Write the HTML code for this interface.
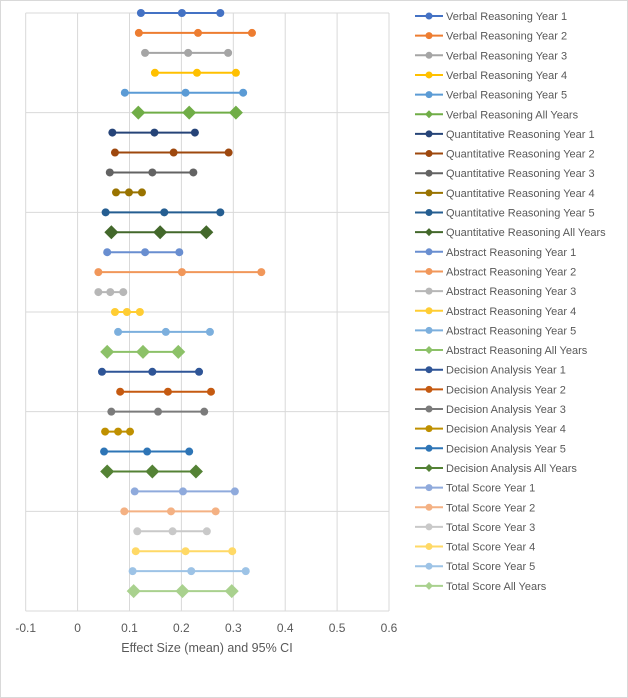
<!DOCTYPE html>
<html><head><meta charset="utf-8"><style>
body{margin:0;background:#fff;font-family:"Liberation Sans",sans-serif}
#wrap{position:relative;width:628px;height:698px;overflow:hidden}
</style></head><body>
<div id="wrap">
<svg id="chart" width="628" height="698"></svg>
</div>
<script>
const seriesNames=["Verbal Reasoning Year 1","Verbal Reasoning Year 2","Verbal Reasoning Year 3","Verbal Reasoning Year 4","Verbal Reasoning Year 5","Verbal Reasoning All Years","Quantitative Reasoning Year 1","Quantitative Reasoning Year 2","Quantitative Reasoning Year 3","Quantitative Reasoning Year 4","Quantitative Reasoning Year 5","Quantitative Reasoning All Years","Abstract Reasoning Year 1","Abstract Reasoning Year 2","Abstract Reasoning Year 3","Abstract Reasoning Year 4","Abstract Reasoning Year 5","Abstract Reasoning All Years","Decision Analysis Year 1","Decision Analysis Year 2","Decision Analysis Year 3","Decision Analysis Year 4","Decision Analysis Year 5","Decision Analysis All Years","Total Score Year 1","Total Score Year 2","Total Score Year 3","Total Score Year 4","Total Score Year 5","Total Score All Years"];
const lowerCI=[0.122,0.118,0.130,0.149,0.091,0.117,0.067,0.072,0.062,0.074,0.054,0.065,0.057,0.040,0.040,0.072,0.078,0.057,0.047,0.082,0.065,0.053,0.051,0.057,0.110,0.090,0.115,0.112,0.106,0.108];
const meanES=[0.201,0.232,0.213,0.230,0.208,0.215,0.148,0.185,0.144,0.099,0.167,0.159,0.130,0.201,0.063,0.095,0.170,0.126,0.144,0.174,0.155,0.078,0.134,0.144,0.203,0.180,0.183,0.208,0.219,0.202];
const upperCI=[0.275,0.336,0.290,0.305,0.319,0.305,0.226,0.291,0.223,0.124,0.275,0.248,0.196,0.354,0.088,0.120,0.255,0.194,0.234,0.257,0.244,0.101,0.215,0.228,0.303,0.266,0.249,0.298,0.324,0.297];
const xTicks=[-0.1,0,0.1,0.2,0.3,0.4,0.5,0.6];
const colors=["#4472C4","#ED7D31","#A5A5A5","#FFC000","#5B9BD5","#70AD47","#264478","#9E480E","#636363","#997300","#255E91","#43682B","#698ED0","#F1975A","#B7B7B7","#FFCD33","#7CAFDD","#8CC168","#2F5597","#C55A11","#7B7B7B","#BF9000","#2E75B6","#548235","#8FAADC","#F4B183","#C9C9C9","#FFD966","#9DC3E6","#A9D18E"];
const svg=document.getElementById('chart');
const NS="http://www.w3.org/2000/svg";
function mk(t,a,p){const e=document.createElementNS(NS,t);for(const k in a)e.setAttribute(k,a[k]);(p||svg).appendChild(e);return e;}
const X0=25.7,X1=389,Y0=13,Y1=611;
const xs=v=>X0+(v+0.1)/0.7*(X1-X0);
const ys=i=>Y0+i*(Y1-Y0)/30;
// border
let b=mk('rect',{x:0.5,y:0.5,width:627,height:697,fill:'#fff',stroke:'#D9D9D9'});

// grid
xTicks.forEach((t,i)=>{
 const g=mk('line',{x1:xs(t),x2:xs(t),y1:Y0,y2:Y1,stroke:'#D9D9D9','stroke-width':1});
 
 const tx=mk('text',{x:xs(t),y:632,'text-anchor':'middle','font-size':'12',fill:'#595959'});
 tx.textContent=String(t);
 
});
for(let k=0;k<=6;k++){
 const g=mk('line',{x1:X0,x2:X1,y1:ys(k*5),y2:ys(k*5),stroke:'#D9D9D9','stroke-width':1});
 
}
const at=mk('text',{x:207,y:652,'text-anchor':'middle','font-size':'12.5',fill:'#595959'});
at.textContent='Effect Size (mean) and 95% CI';

function marker(g,x,y,c,dia,s){
 if(dia){const r=s;mk('polygon',{points:`${x},${y-r} ${x+r},${y} ${x},${y+r} ${x-r},${y}`,fill:c},g);}
 else mk('circle',{cx:x,cy:y,r:s,fill:c},g);
}
seriesNames.forEach((n,i)=>{
 const c=colors[i],dia=(i%6===5),y=ys(i);
 const g=mk('g',{});
 
 
 mk('line',{x1:xs(lowerCI[i]),x2:xs(upperCI[i]),y1:y,y2:y,stroke:c,'stroke-width':2},g);
 [lowerCI[i],meanES[i],upperCI[i]].forEach(v=>marker(g,xs(v),y,c,dia,dia?7:4));
 // legend
 const ly=16+i*19.65;
 const lg=mk('g',{});
 
 
 mk('line',{x1:415,x2:443,y1:ly,y2:ly,stroke:c,'stroke-width':2},lg);
 marker(lg,429,ly,c,dia,dia?4:3.5);
 const t=mk('text',{x:446,y:ly+4,'font-size':'11',fill:'#595959'},lg);
 t.textContent=n;
});
</script>
</body></html>
